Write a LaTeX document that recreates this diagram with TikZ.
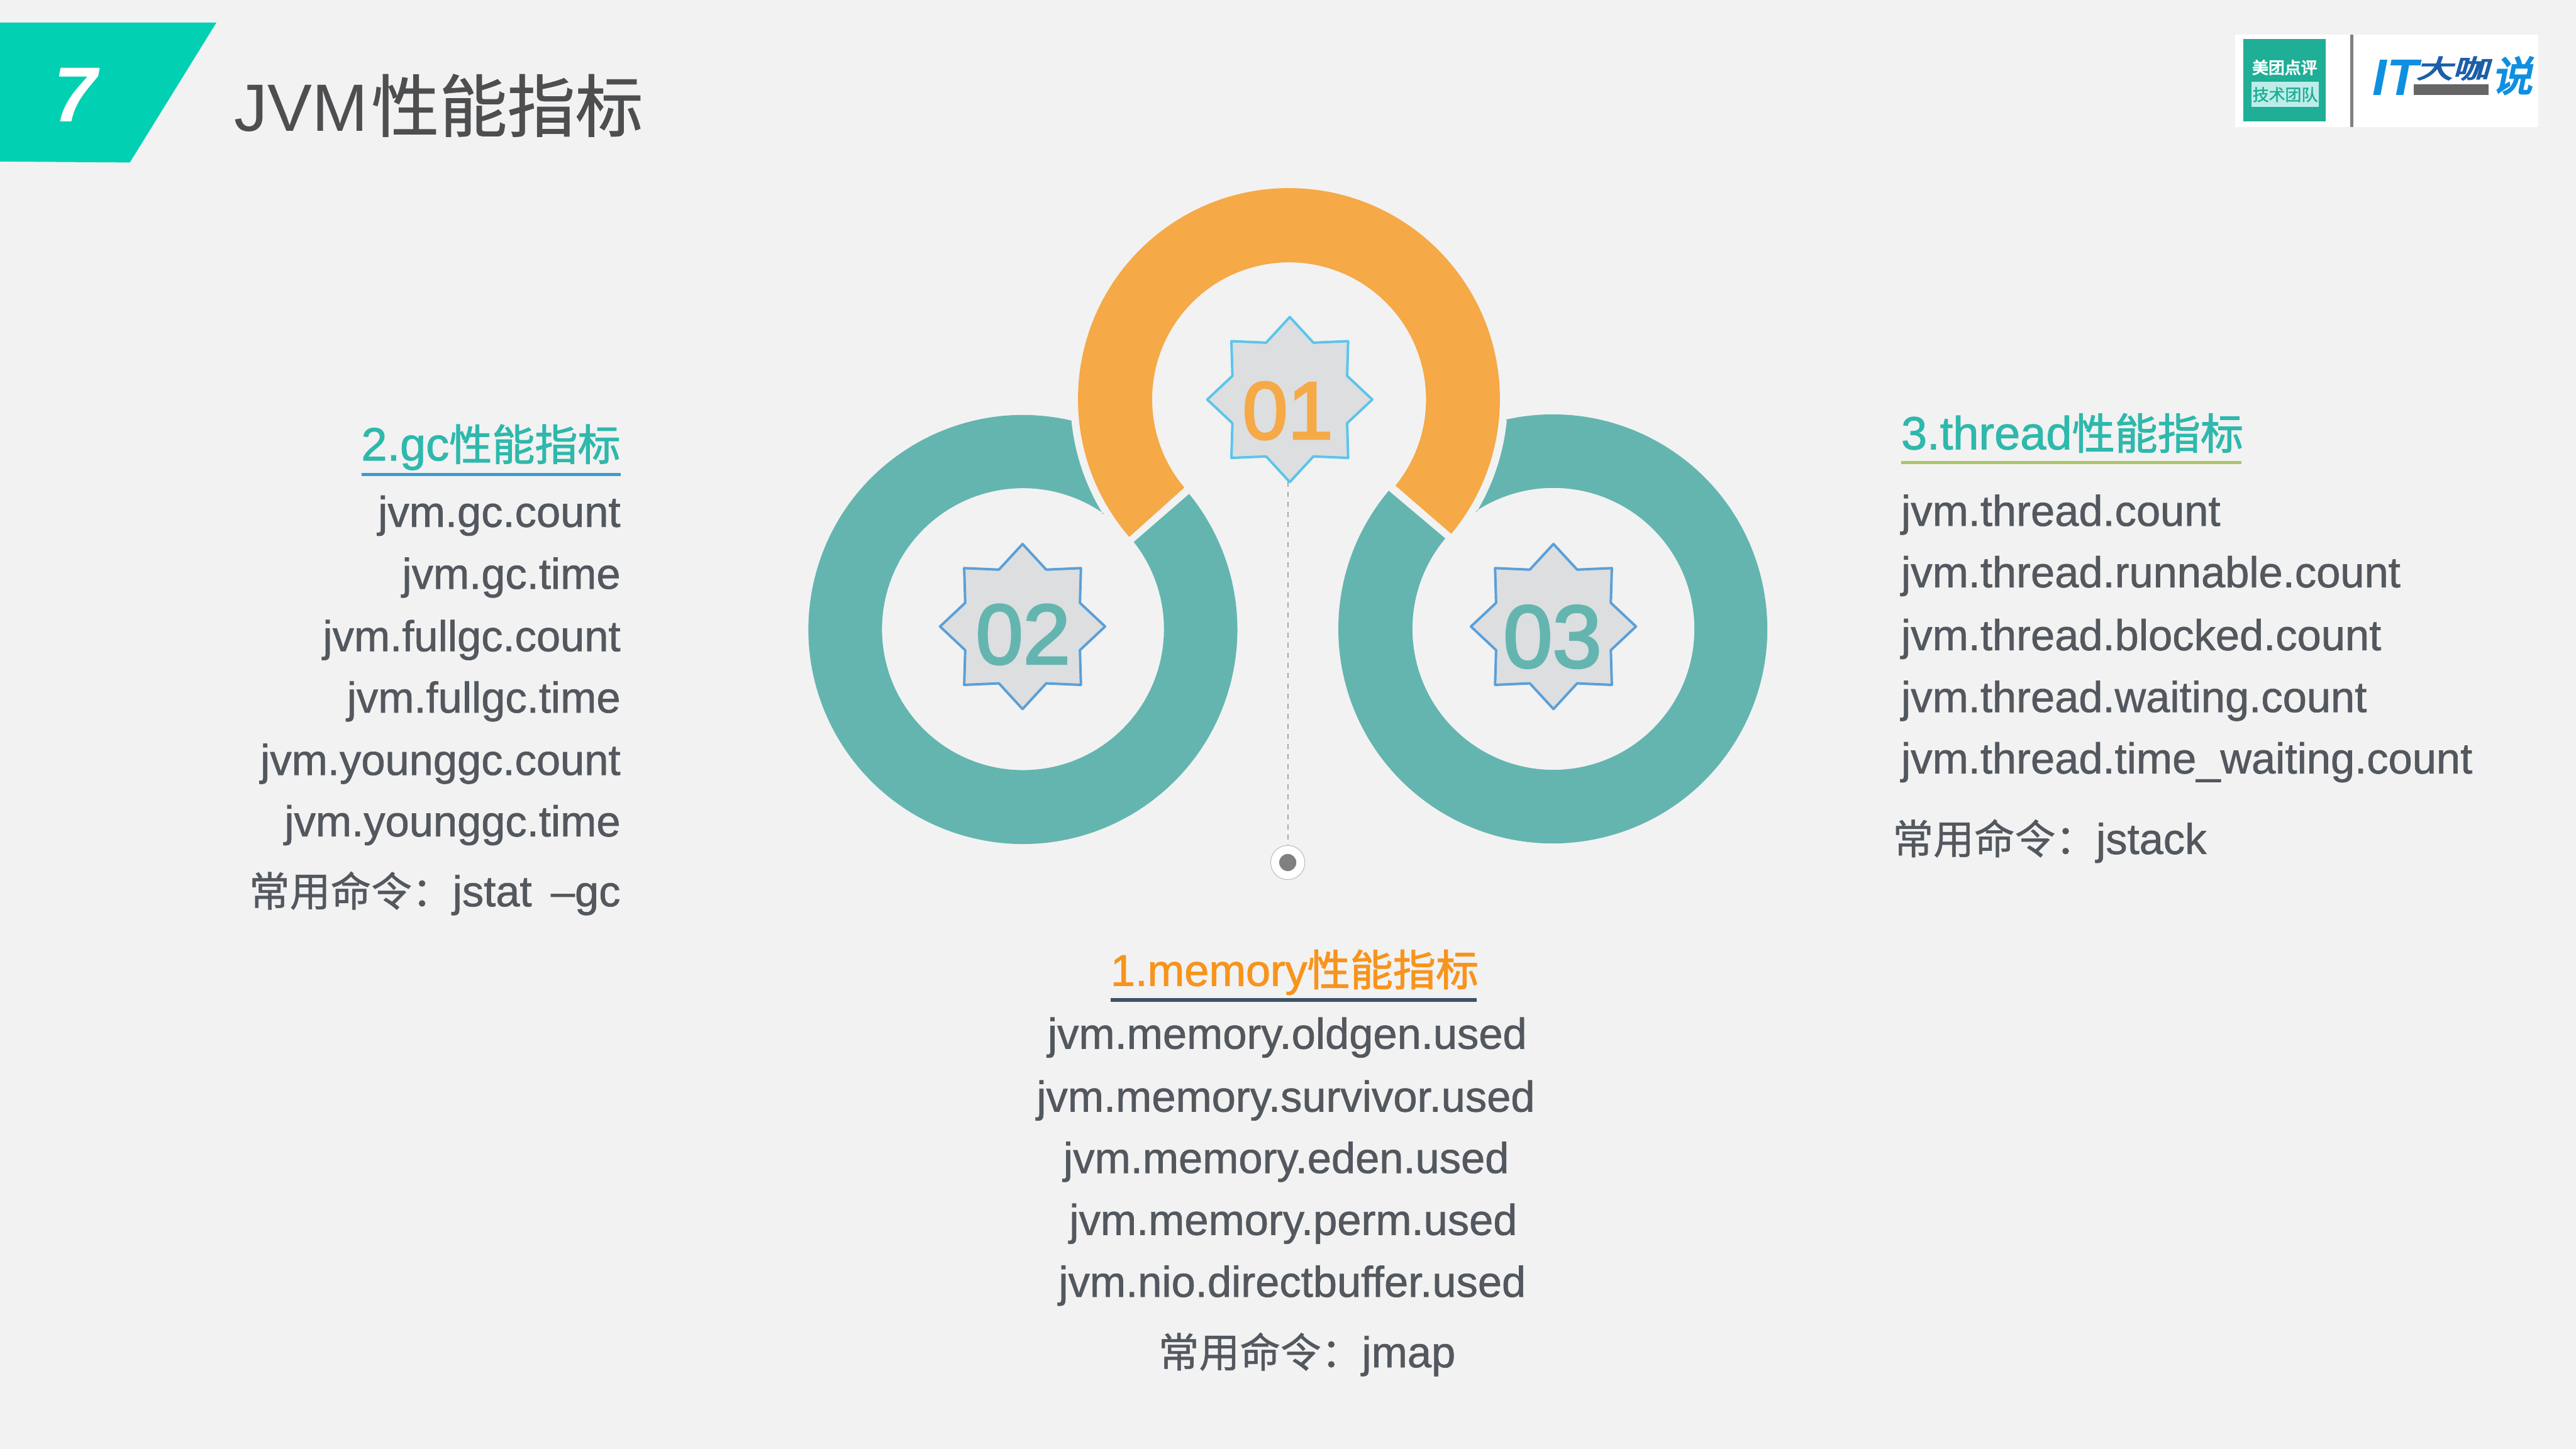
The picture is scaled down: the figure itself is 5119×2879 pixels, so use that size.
\documentclass[tikz,border=0pt]{standalone}
\usepackage{fontspec}
\newfontfamily\lat{Liberation Sans}
\newfontfamily\latm[FakeBold=1.0]{Liberation Sans}
\newfontfamily\lath[FakeBold=1.3]{Liberation Sans}
\newfontfamily\latb[FakeBold=2.6]{Liberation Sans}
\newfontfamily\cjk[FakeBold=0.8]{Noto Sans CJK SC}
\newfontfamily\cjkh[FakeBold=1.6]{Noto Sans CJK SC}
\newfontfamily\cjkl[FakeBold=4]{Noto Sans CJK SC}
\newfontfamily\cjkp{Noto Sans CJK SC}
\definecolor{bgc}{HTML}{F2F2F2}
\definecolor{tealring}{HTML}{64B5B0}
\definecolor{orangering}{HTML}{F5A947}
\definecolor{starfill}{HTML}{DCDEE0}
\definecolor{starblue}{HTML}{5BC5EC}
\definecolor{starblueb}{HTML}{5B9FD8}
\definecolor{bodyc}{HTML}{53585F}
\definecolor{headteal}{HTML}{2FB8AC}
\definecolor{headorange}{HTML}{F7941D}
\definecolor{corner}{HTML}{02D0B2}
\definecolor{titlec}{HTML}{4D4E50}
\definecolor{logogreen}{HTML}{1FAE96}
\definecolor{logopale}{HTML}{BDEDE9}
\definecolor{logoblue}{HTML}{0F8FE0}
\definecolor{logonavy}{HTML}{1B5FA8}
\definecolor{rulea}{HTML}{3C9BD0}
\definecolor{ruleb}{HTML}{ACC46C}
\definecolor{rulec}{HTML}{3E5266}
\newcommand{\bodyfont}{\fontsize{24.4pt}{24.4pt}\selectfont}
\newcommand{\bodycjk}[1]{{\fontsize{23pt}{23pt}\selectfont\cjk #1}}
\newcommand{\headcjk}[1]{{\fontsize{24.2pt}{24.2pt}\selectfont\cjkh #1}}
\newcommand{\headlat}[1]{{\fontsize{26.3pt}{26.3pt}\selectfont\lath #1}}
\newcommand{\starshape}[2]{%
  \draw[starstyle,draw=#2,shift={(#1)}] (0,164)--(47,113)--(116,116)--(114,47)--(164,0)--(114,-47)--(116,-116)--(47,-113)--(0,-164)--(-47,-113)--(-116,-116)--(-114,-47)--(-164,0)--(-114,47)--(-116,116)--(-47,113)--cycle;}
\tikzset{
  txt/.style={inner sep=0pt,outer sep=0pt},
  lefttxt/.style={txt,anchor=base east,text=bodyc,font=\latm\bodyfont},
  righttxt/.style={txt,anchor=base west,text=bodyc,font=\latm\bodyfont},
  midtxt/.style={txt,anchor=base,text=bodyc,font=\latm\bodyfont},
  starstyle/.style={fill=starfill,line width=1.4pt,line join=round},
  digit/.style={txt,anchor=base,font=\latb\fontsize{50pt}{50pt}\selectfont},
  rulel/.style={line width=2pt},
}
\begin{document}
\begin{tikzpicture}[x=0.01cm,y=0.01cm]
\useasboundingbox (0,0) rectangle (5119,2879);
\fill[bgc] (0,0) rectangle (5119,2879);
% corner tab
\fill[corner] (0,2834) -- (430,2834) -- (258,2556) -- (0,2558) -- cycle;
\node[txt,anchor=base,text=white,font=\lat\fontsize{44pt}{44pt}\selectfont\bfseries\itshape] (seven) at (150,2637) {7};
\node[txt,anchor=base west,text=titlec,font=\lat\fontsize{37.8pt}{37.8pt}\selectfont] (title) at (465,2618) {JVM\hspace{2pt}{\fontsize{38.4pt}{38.4pt}\selectfont\cjk 性能指标}};
% logo
\fill[white] (4442,2627) rectangle (5044,2810);
\fill[logogreen] (4458,2638) rectangle (4622,2801);
\node[txt,text=white,font=\cjkl\fontsize{9.2pt}{9.2pt}\selectfont] (logoa) at (4540,2745) {美团点评};
\fill[logopale] (4474,2666) rectangle (4608,2717);
\node[txt,text=logogreen,font=\cjkh\fontsize{9.2pt}{9.2pt}\selectfont] (logob) at (4541,2691) {技术团队};
\fill[gray] (4670,2627) rectangle (4676,2810);
\node[txt,anchor=base,text=logoblue,font=\lat\fontsize{29pt}{29pt}\selectfont\bfseries\itshape] (logoc) at (4760,2690) {IT};
\node[txt,anchor=base,text=logonavy,font=\cjkl\fontsize{20.5pt}{20.5pt}\selectfont,yscale=.7,xslant=.2,transform shape] (logod) at (4874,2724) {大咖};
\node[txt,anchor=base,text=logoblue,font=\cjkl\fontsize{23pt}{23pt}\selectfont,xslant=.2,transform shape] (logoe) at (4992,2698) {说};
\fill[black!60] (4797,2690) rectangle (4945,2711);
% teal rings
\fill[tealring] (2130,2043) arc[start angle=76.8,end angle=399.2,radius=4.26cm]
  -- (2253,1802) arc[start angle=38.2,end angle=-304.9,radius=2.80cm]
  -- (2192,1857) arc[start angle=211.8,end angle=185.7,radius=4.33cm] -- cycle;
\fill[tealring] (2992,2045) arc[start angle=102.7,end angle=-220.1,radius=4.26cm]
  -- (2872,1809) arc[start angle=-219.9,end angle=123.2,radius=2.80cm]
  -- (2934,1861) arc[start angle=-31.1,end angle=-5.4,radius=4.33cm] -- cycle;
% orange ring
\fill[orangering] (2244,1812) arc[start angle=220.8,end angle=-39.7,radius=4.19cm]
  -- (2773,1914) arc[start angle=-39.05,end angle=220.1,radius=2.72cm] -- cycle;
% connector
\coordinate (tipa) at (2559,1922);
\node[circle,draw=black!25,fill=white,line width=.4pt,minimum size=0.68cm,inner sep=0pt] (dot) at (2559,1165) {};
\fill[gray] (dot.center) circle[radius=0.17cm];
\draw[black!35,line width=.8pt,dash pattern=on 2.85pt off 2.85pt] (tipa) -- (dot.north);
% stars
\starshape{2563,2085}{starblue}
\starshape{2032,1634}{starblueb}
\starshape{3087,1634}{starblueb}
\node[digit,text=orangering,font=\latb\fontsize{46pt}{46pt}\selectfont] (numa) at (2559,2007) {01};
\node[digit,text=tealring,font=\latb\fontsize{48pt}{48pt}\selectfont] (numb) at (2033,1560) {02};
\node[digit,text=tealring] (numc) at (3085,1553) {03};
% left column
\node[txt,anchor=base east,text=headteal] (hl) at (1233,1964) {\headlat{2.gc}\headcjk{性能指标}};
\draw[rulel,draw=rulea] (718,1936) -- (1233,1936);
\node[lefttxt] (l1) at (1233,1832) {jvm.gc.count};
\node[lefttxt] (l2) at (1233,1709) {jvm.gc.time};
\node[lefttxt] (l3) at (1233,1585) {jvm.fullgc.count};
\node[lefttxt] (l4) at (1233,1463) {jvm.fullgc.time};
\node[lefttxt] (l5) at (1233,1339) {jvm.younggc.count};
\node[lefttxt] (l6) at (1233,1217) {jvm.younggc.time};
\node[lefttxt] (l7) at (1233,1078) {\bodycjk{常用命令：}jstat\hspace{4pt} –gc};
% right column
\node[txt,anchor=base west,text=headteal] (hr) at (3778,1986) {\headlat{3.thread}\headcjk{性能指标}};
\draw[rulel,draw=ruleb] (3778,1960) -- (4454,1960);
\node[righttxt] (r1) at (3778,1834) {jvm.thread.count};
\node[righttxt] (r2) at (3778,1712) {jvm.thread.runnable.count};
\node[righttxt] (r3) at (3778,1587) {jvm.thread.blocked.count};
\node[righttxt] (r4) at (3778,1464) {jvm.thread.waiting.count};
\node[righttxt] (r5) at (3778,1342) {jvm.thread.time\_waiting.count};
\node[righttxt] (r6) at (3761,1182) {\bodycjk{常用命令：}jstack};
% centre column
\node[txt,anchor=base west,text=headorange] (hm) at (2207,920) {{\fontsize{25pt}{25pt}\selectfont\lath 1.memory}\headcjk{性能指标}};
\draw[rulel,draw=rulec] (2207,892) -- (2934,892);
\node[midtxt] (m1) at (2558,795) {jvm.memory.oldgen.used};
\node[midtxt] (m2) at (2555,670) {jvm.memory.survivor.used};
\node[midtxt] (m3) at (2556,548) {jvm.memory.eden.used};
\node[midtxt] (m4) at (2570,425) {jvm.memory.perm.used};
\node[midtxt] (m5) at (2568,302) {jvm.nio.directbuffer.used};
\node[midtxt] (m6) at (2597,162) {\bodycjk{常用命令：}jmap};
\end{tikzpicture}
\end{document}
